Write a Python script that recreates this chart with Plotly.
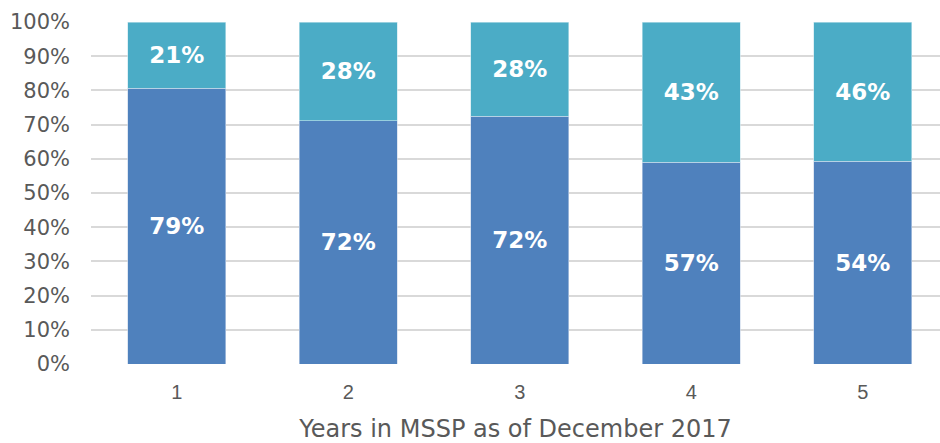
import plotly.graph_objects as go

categories = ["1", "2", "3", "4", "5"]
# bar segment heights (fraction of 100%)
lower_share = [0.806, 0.712, 0.724, 0.590, 0.593]
upper_share = [0.194, 0.288, 0.276, 0.410, 0.407]
# printed labels
lower_labels = ["79%", "72%", "72%", "57%", "54%"]
upper_labels = ["21%", "28%", "28%", "43%", "46%"]

label_font = dict(family="DejaVu Sans", size=23, color="white")

fig = go.Figure()
fig.add_bar(x=categories, y=lower_share, text=[f"<b>{t}</b>" for t in lower_labels],
            texttemplate="%{text}", textposition="inside", insidetextanchor="middle",
            textfont=label_font, marker=dict(color="#4F81BD", line=dict(width=0.6, color="#c9d7ea")),
            width=0.571, hoverinfo="skip", constraintext="none")
fig.add_bar(x=categories, y=upper_share, text=[f"<b>{t}</b>" for t in upper_labels],
            texttemplate="%{text}", textposition="inside", insidetextanchor="middle",
            textfont=label_font, marker=dict(color="#4BACC6", line=dict(width=0.6, color="#c9e6ee")),
            width=0.571, hoverinfo="skip", constraintext="none")

fig.update_layout(
    barmode="stack",
    width=940, height=443,
    margin=dict(l=91, r=0, t=22, b=78.5),
    paper_bgcolor="white", plot_bgcolor="white",
    showlegend=False,
    xaxis=dict(type="category", range=[-0.5, 4.45], showgrid=False, showline=False,
               ticks="", ticklabelstandoff=14,
               tickfont=dict(family="Liberation Sans", size=20, color="#595959"),
               title=dict(text="Years in MSSP as of December 2017",
                          font=dict(family="DejaVu Sans", size=24, color="#595959"),
                          standoff=19),
               automargin=False),
    yaxis=dict(range=[0, 1], dtick=0.1, tickformat=".0%", showgrid=True,
               gridcolor="#d9d9d9", gridwidth=2, zeroline=False, showline=False,
               ticks="", ticklabelstandoff=20,
               tickfont=dict(family="DejaVu Sans", size=21, color="#595959"),
               automargin=False),
)

fig.write_html("out.html", config={"displayModeBar": False},
               post_script="document.body.style.margin='0';document.body.style.padding='0';")
